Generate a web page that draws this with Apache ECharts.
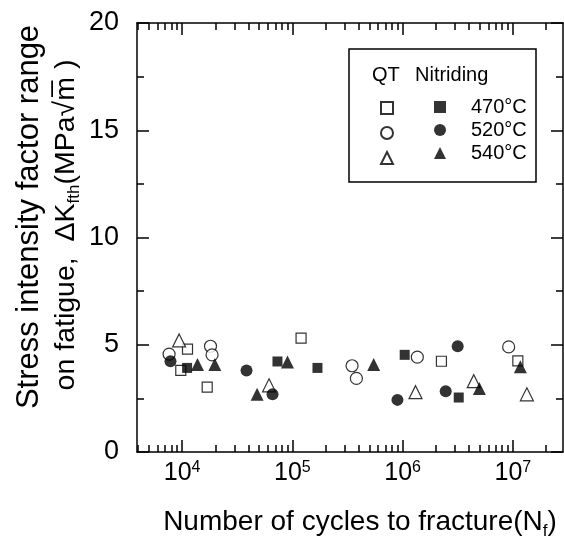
<!DOCTYPE html>
<html>
<head>
<meta charset="utf-8">
<script src="https://cdn.jsdelivr.net/npm/echarts@6/dist/echarts.min.js"></script>
<style>
html, body { margin: 0; padding: 0; background: #fff; }
#chart { width: 564px; height: 543px; }
</style>
</head>
<body>
<div id="chart"></div>
<script>
// [cycles to fracture, dK_fth]
const qt470 = [[9730, 3.81], [11200, 4.8], [16900, 3.02], [120000, 5.31], [2250000, 4.23], [11100000, 4.25]];
const qt520 = [[7620, 4.56], [18100, 4.93], [18700, 4.53], [348000, 4.02], [381000, 3.43], [1360000, 4.42], [9160000, 4.9]];
const qt540 = [[9400, 5.2], [61500, 3.11], [1310000, 2.79], [4420000, 3.3], [13400000, 2.69]];
const ni470 = [[11100, 3.92], [73300, 4.22], [169000, 3.92], [1045000, 4.53], [3230000, 2.54]];
const ni520 = [[7850, 4.23], [38400, 3.8], [66100, 2.69], [898000, 2.43], [2460000, 2.83], [3160000, 4.93]];
const ni540 = [[13800, 4.08], [19800, 4.08], [47900, 2.69], [90400, 4.19], [547000, 4.08], [4970000, 2.96], [11700000, 3.97]];

const tempLabels = ['470°C', '520°C', '540°C'];
const xMajor = [1e4, 1e5, 1e6, 1e7];
const xMin = 3900, xMax = 2.85e7;

const xMinor = [];
for (let e = 3; e <= 7; e++) {
    for (let k = 2; k <= 9; k++) {
        const v = k * Math.pow(10, e);
        if (v > xMin && v < xMax) xMinor.push(v);
    }
}

const font = 'Liberation Sans, Arial, sans-serif';
const black = '#000';
const subStyle = { fontFamily: font, fontSize: 17, color: black, fill: black, verticalAlign: 'bottom', lineHeight: 17 };

function xAx(pos, ticks, len, main) {
    return {
        type: 'log', position: pos, min: xMin, max: xMax, logBase: 10,
        axisLine: { show: main, onZero: false, lineStyle: { color: black, width: 1.5 } },
        axisTick: { show: true, inside: true, length: len, customValues: ticks, lineStyle: { color: black, width: 1.5 } },
        axisLabel: main && pos === 'bottom' ? {
            show: true, customValues: xMajor, margin: 8,
            formatter: function (v) { return '{b|10}{s|' + Math.round(Math.log10(v)) + '}'; },
            rich: {
                b: { fontFamily: font, fontSize: 25, color: black, lineHeight: 27 },
                s: { fontFamily: font, fontSize: 16, color: black, verticalAlign: 'top', lineHeight: 16 }
            }
        } : { show: false },
        splitLine: { show: false },
        minorTick: { show: false },
        name: main && pos === 'bottom' ? 'Number of cycles to fracture(N{sub|f})' : '',
        nameLocation: 'middle', nameGap: 52,
        nameTextStyle: {
            fontFamily: font, fontSize: 28, color: black, lineHeight: 36, padding: [0, 0, 0, 20],
            rich: { sub: subStyle }
        }
    };
}

function yAx(pos, main) {
    return {
        type: 'value', position: pos, min: 0, max: 20, interval: 5,
        axisLine: { show: true, onZero: false, lineStyle: { color: black, width: 1.5 } },
        axisTick: { show: true, inside: true, length: 12, lineStyle: { color: black, width: 1.5 } },
        minorTick: { show: true, splitNumber: 2, length: 7, lineStyle: { color: black, width: 1.5 } },
        axisLabel: { show: main, fontFamily: font, fontSize: 27, color: black, margin: 18 },
        splitLine: { show: false }
    };
}

function sc(name, data, symbol, size, filled) {
    return {
        name: name, type: 'scatter', data: data, symbol: symbol, symbolSize: size,
        xAxisIndex: 0, yAxisIndex: 0,
        itemStyle: filled ? { color: black } : { color: '#fff', borderColor: black, borderWidth: 1.2 },
        emphasis: { disabled: true }
    };
}

const chart = echarts.init(document.getElementById('chart'), null, { renderer: 'canvas' });
chart.setOption({
    animation: false,
    backgroundColor: '#fff',
    grid: { left: 137, right: 1, top: 23, bottom: 91, containLabel: false, outerBoundsMode: 'none' },
    xAxis: [
        xAx('bottom', xMinor, 7, true),
        xAx('bottom', xMajor, 12, false),
        xAx('top', xMinor, 7, true),
        xAx('top', xMajor, 12, false)
    ],
    yAxis: [yAx('left', true), yAx('right', false)],
    legend: [
        {
            data: ['QT 470', 'QT 520', 'QT 540'], orient: 'vertical', left: 380, top: 101, padding: 0,
            itemGap: 11, itemWidth: 12, itemHeight: 12, selectedMode: false,
            formatter: function () { return ''; }
        },
        {
            data: ['N 470', 'N 520', 'N 540'], orient: 'vertical', left: 434, top: 97, padding: 0,
            itemGap: 3, itemWidth: 12, itemHeight: 12, selectedMode: false,
            formatter: function (n) { return tempLabels[['N 470', 'N 520', 'N 540'].indexOf(n)]; },
            textStyle: { fontFamily: font, fontSize: 20, color: black, padding: [0, 0, 0, 20] }
        }
    ],
    graphic: [
        { type: 'rect', shape: { x: 349, y: 49, width: 187, height: 133 }, style: { fill: 'none', stroke: black, lineWidth: 1.5 }, z: 10 },
        { type: 'text', left: 372, top: 65, style: { text: 'QT', font: '20px ' + font, fill: black }, z: 10 },
        { type: 'text', left: 415, top: 65, style: { text: 'Nitriding', font: '20px ' + font, fill: black }, z: 10 },
        // y axis title, two lines
        {
            type: 'text', x: 29, y: 217, rotation: Math.PI / 2, z: 10,
            style: { text: 'Stress intensity factor range', font: '31px ' + font, fill: black, align: 'center', verticalAlign: 'middle' }
        },
        {
            type: 'text', x: 66, y: 225, rotation: Math.PI / 2, z: 10,
            style: {
                text: 'on fatigue,  ΔK{sub|fth}(MPa√m̅ )', font: '28.5px ' + font, fill: black,
                align: 'center', verticalAlign: 'middle', lineHeight: 34,
                rich: { sub: subStyle }
            }
        }
    ],
    series: [
        sc('QT 470', qt470, 'rect', 10, false),
        sc('QT 520', qt520, 'circle', 12, false),
        sc('QT 540', qt540, 'triangle', 13, false),
        sc('N 470', ni470, 'rect', 10, true),
        sc('N 520', ni520, 'circle', 12, true),
        sc('N 540', ni540, 'triangle', 13, true)
    ]
});
</script>
</body>
</html>
